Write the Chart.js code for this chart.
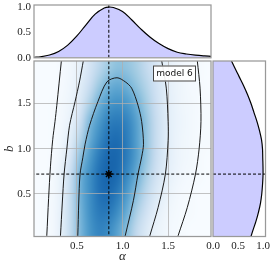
<!DOCTYPE html>
<html>
<head>
<meta charset="utf-8">
<script src="https://cdn.jsdelivr.net/npm/chart.js@4.4.0/dist/chart.umd.min.js"></script>
<style>
html, body { margin: 0; padding: 0; background: #fff; }
#wrap { position: relative; width: 274px; height: 268px; }
#wrap canvas { position: absolute; left: 0; top: 0; }
</style>
</head>
<body>
<div id="wrap">
  <canvas id="main" width="274" height="268"></canvas>
  <canvas id="top" width="274" height="268"></canvas>
  <canvas id="side" width="274" height="268"></canvas>
</div>
<script>
// marginal of alpha (top panel)
var alphaGrid = [0.03, 0.1, 0.2, 0.3, 0.4, 0.5, 0.6, 0.7, 0.8, 0.85, 0.9, 1.0, 1.1, 1.2, 1.3, 1.4, 1.5, 1.6, 1.7, 1.8, 1.9, 1.97];
var alphaPdf  = [0.01, 0.02, 0.055, 0.125, 0.25, 0.43, 0.65, 0.86, 0.98, 1.0, 0.99, 0.91, 0.75, 0.57, 0.41, 0.28, 0.18, 0.11, 0.075, 0.052, 0.037, 0.03];

// marginal of b (right panel)
var bGrid = [0.03, 0.1, 0.2, 0.3, 0.4, 0.5, 0.6, 0.7, 0.8, 0.9, 1.0, 1.1, 1.2, 1.3, 1.4, 1.5, 1.6, 1.7, 1.8, 1.9, 1.97];
var bPdf  = [0.76, 0.80, 0.86, 0.91, 0.95, 0.975, 0.99, 1.0, 1.0, 0.995, 0.99, 0.97, 0.93, 0.88, 0.82, 0.76, 0.69, 0.61, 0.52, 0.43, 0.37];

// best fit point
var bestAlpha = 0.85;
var bestB = 0.72;

// 2d density, one row per b value, one column per alpha value
var densAlpha = [0.05, 0.15, 0.25, 0.35, 0.45, 0.55, 0.65, 0.75, 0.85, 0.95, 1.05, 1.15, 1.25, 1.35, 1.45, 1.55, 1.65, 1.75, 1.85, 1.95];
var densB = [0.1, 0.3, 0.5, 0.7, 0.9, 1.1, 1.3, 1.5, 1.7, 1.9];
var density = [
  [0, 0.01, 0.04, 0.15, 0.36, 0.60, 0.77, 0.85, 0.81, 0.69, 0.52, 0.33, 0.19, 0.09, 0.05, 0.02, 0.01, 0, 0, 0],
  [0, 0.01, 0.04, 0.15, 0.36, 0.62, 0.80, 0.90, 0.90, 0.80, 0.63, 0.42, 0.26, 0.14, 0.07, 0.03, 0.01, 0.01, 0, 0],
  [0, 0.01, 0.03, 0.14, 0.36, 0.64, 0.81, 0.94, 0.97, 0.89, 0.73, 0.53, 0.35, 0.20, 0.11, 0.05, 0.02, 0.01, 0, 0],
  [0, 0, 0.03, 0.13, 0.34, 0.64, 0.81, 0.95, 1.0, 0.96, 0.82, 0.64, 0.44, 0.27, 0.15, 0.08, 0.04, 0.02, 0.01, 0],
  [0, 0, 0.02, 0.09, 0.26, 0.55, 0.75, 0.91, 0.99, 0.98, 0.88, 0.72, 0.52, 0.32, 0.18, 0.10, 0.05, 0.03, 0.01, 0],
  [0, 0, 0.01, 0.06, 0.18, 0.41, 0.66, 0.83, 0.94, 0.96, 0.88, 0.72, 0.52, 0.33, 0.18, 0.10, 0.05, 0.03, 0.01, 0.01],
  [0, 0, 0.01, 0.04, 0.12, 0.31, 0.59, 0.75, 0.87, 0.90, 0.85, 0.71, 0.52, 0.33, 0.19, 0.10, 0.06, 0.03, 0.01, 0.01],
  [0, 0, 0.01, 0.03, 0.08, 0.21, 0.42, 0.63, 0.75, 0.79, 0.75, 0.63, 0.47, 0.30, 0.17, 0.10, 0.05, 0.03, 0.01, 0.01],
  [0, 0, 0, 0.02, 0.06, 0.16, 0.30, 0.48, 0.61, 0.66, 0.61, 0.51, 0.39, 0.26, 0.16, 0.09, 0.05, 0.02, 0.01, 0],
  [0, 0, 0, 0.02, 0.05, 0.12, 0.23, 0.35, 0.46, 0.52, 0.50, 0.43, 0.33, 0.22, 0.13, 0.08, 0.04, 0.02, 0.01, 0]
];

// contour lines (alpha, b)
var contourA = [[0.165, 0.0], [0.17, 0.04], [0.19, 0.45], [0.21, 0.8], [0.235, 1.1], [0.26, 1.3], [0.28, 1.48], [0.33, 1.97], [0.335, 2.0]];
var contourB = [[0.315, 0.0], [0.32, 0.04], [0.34, 0.4], [0.36, 0.72], [0.39, 1.0], [0.42, 1.26], [0.48, 1.52], [0.53, 1.75], [0.57, 1.97], [0.575, 2.0]];
var contourC = [[0.505, 0.0], [0.51, 0.04], [0.52, 0.4], [0.535, 0.72], [0.565, 0.9], [0.59, 1.05], [0.64, 1.26], [0.73, 1.52], [0.83, 1.74], [0.94, 1.785],
                [1.03, 1.74], [1.10, 1.67], [1.17, 1.48], [1.21, 1.30], [1.23, 1.05], [1.21, 0.91], [1.17, 0.72], [1.12, 0.43], [1.03, 0.04], [1.02, 0.0]];
var contourD = [[1.425, 2.0], [1.43, 1.97], [1.48, 1.67], [1.50, 1.30], [1.50, 1.09], [1.47, 0.72], [1.39, 0.35], [1.30, 0.04], [1.29, 0.0]];
var contourE = [[1.815, 2.0], [1.82, 1.97], [1.85, 1.67], [1.86, 1.3], [1.84, 1.0], [1.80, 0.72], [1.71, 0.35], [1.61, 0.04], [1.60, 0.0]];

var xTicks = [0.5, 1.0, 1.5];
var yTicks = [0.5, 1.0, 1.5];
var pdfTicks = [0.0, 0.5, 1.0];
var legendLabel = 'model 6';

var serif = "'Liberation Serif', 'DejaVu Serif', serif";
var gridColor = 'rgba(175,175,175,0.75)';
var frameColor = '#999';

var blues = [[247,251,255],[222,235,247],[198,219,239],[158,202,225],[107,174,214],[66,146,198],[33,113,181],[8,81,156],[8,48,107]];
function bluesAt(v) {
    v = Math.max(0, Math.min(1, v)) * 8;
    var i = Math.min(7, Math.floor(v)), f = v - i;
    return blues[i].map(function(c, k) { return Math.round(c + (blues[i + 1][k] - c) * f); });
}

function pts(list) {
    return list.map(function(p) { return {x: p[0], y: p[1]}; });
}

function fixTicks(list) {
    return function(s) { s.ticks = list.map(function(v) { return {value: v}; }); };
}

function fitW(w) {
    return function(s) { s.width = w; s.paddingTop = 0; s.paddingBottom = 0; };
}
function fitH(h) {
    return function(s) { s.height = h; s.paddingLeft = 0; s.paddingRight = 0; };
}

var frame = {
    id: 'frame',
    afterDraw: function(chart) {
        var a = chart.chartArea, ctx = chart.ctx;
        ctx.save();
        ctx.strokeStyle = frameColor;
        ctx.lineWidth = 1.25;
        ctx.strokeRect(a.left, a.top, a.right - a.left, a.bottom - a.top);
        ctx.restore();
    }
};

var heatmap = {
    id: 'heatmap',
    beforeDraw: function(chart) {
        var ctx = chart.ctx, a = chart.chartArea, xs = chart.scales.x, ys = chart.scales.y;
        var nx = densAlpha.length, ny = densB.length;
        var off = document.createElement('canvas');
        off.width = nx; off.height = ny;
        var octx = off.getContext('2d');
        var img = octx.createImageData(nx, ny);
        for (var j = 0; j < ny; j++) {
            for (var i = 0; i < nx; i++) {
                var c = bluesAt(density[j][i] * 0.8);
                var k = ((ny - 1 - j) * nx + i) * 4;
                img.data[k] = c[0]; img.data[k + 1] = c[1]; img.data[k + 2] = c[2]; img.data[k + 3] = 255;
            }
        }
        octx.putImageData(img, 0, 0);
        var dx = (densAlpha[1] - densAlpha[0]) / 2, dy = (densB[1] - densB[0]) / 2;
        var x0 = xs.getPixelForValue(densAlpha[0] - dx), x1 = xs.getPixelForValue(densAlpha[nx - 1] + dx);
        var y0 = ys.getPixelForValue(densB[ny - 1] + dy), y1 = ys.getPixelForValue(densB[0] - dy);
        ctx.save();
        ctx.beginPath();
        ctx.rect(a.left, a.top, a.right - a.left, a.bottom - a.top);
        ctx.clip();
        ctx.imageSmoothingEnabled = true;
        ctx.imageSmoothingQuality = 'high';
        ctx.drawImage(off, x0, y0, x1 - x0, y1 - y0);
        ctx.restore();
    }
};

var legendBox = {
    id: 'legendBox',
    afterDraw: function(chart) {
        var a = chart.chartArea, ctx = chart.ctx;
        var w = 43, h = 16;
        var x = a.right - 15 - w, y = a.top + 4.5;
        ctx.save();
        ctx.fillStyle = 'rgba(255,255,255,0.92)';
        ctx.fillRect(x, y, w, h);
        ctx.strokeStyle = '#444';
        ctx.lineWidth = 1;
        ctx.strokeRect(x + 0.5, y + 0.5, w - 1, h - 1);
        ctx.fillStyle = '#111';
        ctx.font = "9px 'DejaVu Sans', sans-serif";
        ctx.textAlign = 'center';
        ctx.textBaseline = 'middle';
        ctx.fillText(legendLabel, x + w / 2, y + h / 2 + 0.5);
        ctx.restore();
    }
};

function contourSet(list) {
    return {data: pts(list), showLine: true, borderColor: '#1a1a1a', borderWidth: 1, pointRadius: 0, tension: 0.3, fill: false};
}

var tickFont = {family: serif, size: 11};

// main panel
new Chart(document.getElementById('main'), {
    type: 'scatter',
    data: {
        datasets: [
            {data: [{x: bestAlpha, y: bestB}], pointStyle: 'star', pointRadius: 4, borderColor: '#000', backgroundColor: '#000', borderWidth: 1.5},
            {data: [{x: bestAlpha, y: 0.0}, {x: bestAlpha, y: 2.0}], showLine: true, borderColor: '#000', borderWidth: 1, borderDash: [3, 2], pointRadius: 0},
            {data: [{x: 0.0, y: bestB}, {x: 2.0, y: bestB}], showLine: true, borderColor: '#000', borderWidth: 1, borderDash: [3, 2], pointRadius: 0},
            contourSet(contourA), contourSet(contourB), contourSet(contourC), contourSet(contourD), contourSet(contourE)
        ]
    },
    options: {
        responsive: false, animation: false, devicePixelRatio: 1,
        layout: {padding: {left: 0, right: 63, top: 61, bottom: 0}},
        plugins: {legend: {display: false}, tooltip: {enabled: false}},
        scales: {
            x: {
                type: 'linear', min: 0.03, max: 1.97,
                afterBuildTicks: fixTicks(xTicks), afterFit: fitH(31.5),
                grid: {color: gridColor, drawTicks: false}, border: {display: false},
                ticks: {padding: 3, color: '#222', font: tickFont, callback: function(v) { return v.toFixed(1); }},
                title: {display: true, text: 'α', color: '#222', font: {family: serif, size: 13, style: 'italic'}, padding: {top: 0, bottom: 4}}
            },
            y: {
                type: 'linear', min: 0.03, max: 1.97,
                afterBuildTicks: fixTicks(yTicks), afterFit: fitW(34),
                grid: {color: gridColor, drawTicks: false}, border: {display: false},
                ticks: {padding: 3, color: '#222', font: tickFont, callback: function(v) { return v.toFixed(1); }},
                title: {display: true, text: 'b', color: '#222', font: {family: serif, size: 13, style: 'italic'}, padding: {top: 2, bottom: 0}}
            }
        }
    },
    plugins: [heatmap, frame, legendBox]
});

// top panel: marginal of alpha
new Chart(document.getElementById('top'), {
    type: 'line',
    data: {
        datasets: [
            {data: [{x: bestAlpha, y: 0}, {x: bestAlpha, y: 1.04}], borderColor: '#000', borderWidth: 1, borderDash: [3, 2], pointRadius: 0, fill: false},
            {data: alphaGrid.map(function(a, i) { return {x: a, y: alphaPdf[i]}; }), borderColor: '#000', borderWidth: 1.2,
             backgroundColor: '#ccccff', fill: 'origin', pointRadius: 0, tension: 0.4}
        ]
    },
    options: {
        responsive: false, animation: false, devicePixelRatio: 1,
        layout: {padding: {left: 0, right: 63, top: 5, bottom: 210.2}},
        plugins: {legend: {display: false}, tooltip: {enabled: false}},
        scales: {
            x: {type: 'linear', min: 0.03, max: 1.97, display: false},
            y: {
                type: 'linear', min: 0, max: 1.04,
                afterBuildTicks: fixTicks(pdfTicks), afterFit: fitW(34),
                grid: {display: false, drawTicks: false}, border: {display: false},
                ticks: {padding: 3, color: '#222', font: tickFont, callback: function(v) { return v.toFixed(1); }}
            }
        }
    },
    plugins: [frame]
});

// right panel: marginal of b
new Chart(document.getElementById('side'), {
    type: 'line',
    data: {
        datasets: [
            {data: [{x: 0, y: bestB}, {x: 1.05, y: bestB}], borderColor: '#000', borderWidth: 1, borderDash: [3, 2], pointRadius: 0, fill: false},
            {data: bGrid.map(function(b, i) { return {x: bPdf[i], y: b}; }), borderColor: '#000', borderWidth: 1.2,
             backgroundColor: '#ccccff', fill: 'origin', pointRadius: 0, tension: 0.4}
        ]
    },
    options: {
        indexAxis: 'y',
        responsive: false, animation: false, devicePixelRatio: 1,
        layout: {padding: {left: 213, right: 8.5, top: 61, bottom: 0}},
        plugins: {legend: {display: false}, tooltip: {enabled: false}},
        scales: {
            x: {
                type: 'linear', min: 0, max: 1.05,
                afterBuildTicks: fixTicks(pdfTicks), afterFit: fitH(31.5),
                grid: {display: false, drawTicks: false}, border: {display: false},
                ticks: {padding: 3, color: '#222', font: tickFont, callback: function(v) { return v.toFixed(1); }}
            },
            y: {type: 'linear', min: 0.03, max: 1.97, display: false}
        }
    },
    plugins: [frame]
});
</script>
</body>
</html>
